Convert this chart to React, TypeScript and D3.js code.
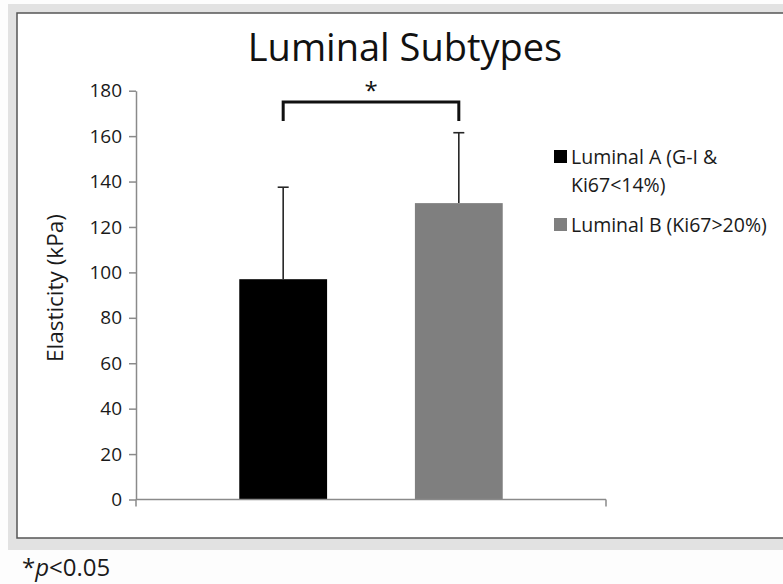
import { useEffect, useRef } from "react";
import * as d3 from "d3";

// chart values
const categories = ["Luminal"];
const seriesNames = ["Luminal A", "Luminal B"];
const legendLines = [["Luminal A (G-I &", "Ki67<14%)"], ["Luminal B (Ki67>20%)"]];
const meanValues = [97, 130.5];
const sdValues = [40.5, 31];
const yTicks = [0, 20, 40, 60, 80, 100, 120, 140, 160, 180];
const bracketLevels = [175, 166.7]; // top of bracket, bottom of its legs
const seriesColors = ["#000000", "#7f7f7f"];

const WIDTH = 783;
const HEIGHT = 584;
const FONT = "'Open Sans', 'Noto Sans', sans-serif";

const PLOT = { left: 136, right: 606, top: 90.7, bottom: 499.5 };

const App = () => {
    const yAxisRef = useRef<SVGGElement>(null);

    const yScale = d3.scaleLinear().domain([0, 180]).range([PLOT.bottom, PLOT.top]);
    const xOuter = d3
        .scaleBand()
        .domain(categories)
        .range([PLOT.left, PLOT.right])
        .paddingInner(0)
        .paddingOuter(0.392);
    const xInner = d3
        .scaleBand()
        .domain(seriesNames)
        .range([0, xOuter.bandwidth()])
        .paddingInner(0.5);

    useEffect(() => {
        const g = d3.select(yAxisRef.current);
        g.selectAll("*").remove();
        g.call(
            d3.axisLeft(yScale).tickValues(yTicks).tickSize(7).tickSizeOuter(0).tickPadding(7)
        );
        g.select(".domain").attr("stroke", "#8a8a8a").attr("stroke-width", 1.5);
        g.selectAll(".tick line").attr("stroke", "#8a8a8a").attr("stroke-width", 1.5);
        g.selectAll(".tick text")
            .attr("font-family", FONT)
            .attr("font-size", 19)
            .attr("fill", "#1a1a1a");
    }, []);

    const cat = categories[0];
    const barCenter = (i: number) =>
        (xOuter(cat) ?? 0) + (xInner(seriesNames[i]) ?? 0) + xInner.bandwidth() / 2;

    return (
        <svg
            width={WIDTH}
            height={HEIGHT}
            style={{ position: "absolute", left: 0, top: 0, background: "#fdfdfd" }}
        >
            {/* frame */}
            <rect x={8} y={4} width={WIDTH} height={546} fill="#e2e2e2" />
            <rect x={17} y={13} width={WIDTH} height={525} fill="#ffffff" stroke="#555" strokeWidth={1.5} />

            <text
                x={405}
                y={61}
                textAnchor="middle"
                fontFamily={FONT}
                fontSize={38}
                fill="#111"
            >
                Luminal Subtypes
            </text>

            <text
                transform={`translate(63,${(PLOT.top + PLOT.bottom) / 2 - 7}) rotate(-90)`}
                textAnchor="middle"
                fontFamily={FONT}
                fontSize={22.5}
                fill="#1a1a1a"
            >
                Elasticity (kPa)
            </text>

            {/* bars */}
            {seriesNames.map((s, i) => (
                <rect
                    key={s}
                    x={(xOuter(cat) ?? 0) + (xInner(s) ?? 0)}
                    y={yScale(meanValues[i])}
                    width={xInner.bandwidth()}
                    height={yScale(0) - yScale(meanValues[i])}
                    fill={seriesColors[i]}
                />
            ))}

            {/* error bars (upper only) */}
            {seriesNames.map((s, i) => {
                const cx = barCenter(i);
                const top = yScale(meanValues[i] + sdValues[i]);
                return (
                    <g key={s + "-err"} stroke="#262626" strokeWidth={1.6}>
                        <line x1={cx} x2={cx} y1={yScale(meanValues[i])} y2={top} />
                        <line x1={cx - 5.5} x2={cx + 5.5} y1={top} y2={top} />
                    </g>
                );
            })}

            {/* x axis */}
            <g stroke="#8a8a8a" strokeWidth={1.5}>
                <line x1={PLOT.left} x2={PLOT.right} y1={yScale(0)} y2={yScale(0)} />
                <line x1={PLOT.left} x2={PLOT.left} y1={yScale(0)} y2={yScale(0) + 7} />
                <line x1={PLOT.right} x2={PLOT.right} y1={yScale(0)} y2={yScale(0) + 7} />
            </g>

            <g ref={yAxisRef} transform={`translate(${PLOT.left},0)`} />

            {/* significance bracket */}
            <path
                d={`M${barCenter(0)},${yScale(bracketLevels[1])}V${yScale(bracketLevels[0])}H${barCenter(1)}V${yScale(bracketLevels[1])}`}
                fill="none"
                stroke="#111"
                strokeWidth={3}
            />
            <text
                x={(barCenter(0) + barCenter(1)) / 2}
                y={yScale(bracketLevels[0]) - 3}
                textAnchor="middle"
                fontFamily={FONT}
                fontSize={24}
                fill="#111"
            >
                *
            </text>

            {/* legend */}
            {legendLines.map((lines, i) => {
                const top = [150, 218][i];
                return (
                    <g key={"leg" + i}>
                        <rect x={554} y={top} width={13} height={13} fill={seriesColors[i]} />
                        {lines.map((t, j) => (
                            <text
                                key={t}
                                x={571}
                                y={top + 13.5 + j * 28.5}
                                fontFamily={FONT}
                                fontSize={19.5}
                                fill="#1a1a1a"
                            >
                                {t}
                            </text>
                        ))}
                    </g>
                );
            })}

            <text x={22} y={576} fontFamily={FONT} fontSize={24} fill="#1a1a1a">
                *<tspan fontStyle="italic">p</tspan>&lt;0.05
            </text>
        </svg>
    );
};

export default App;
